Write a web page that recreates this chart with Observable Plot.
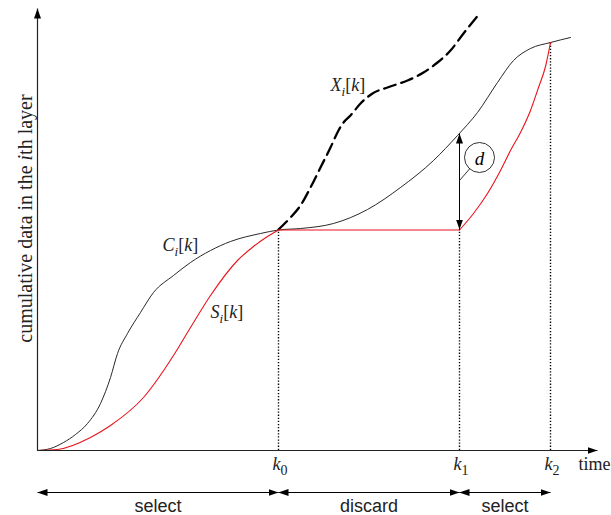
<!DOCTYPE html>
<html><head><meta charset="utf-8">
<script src="https://cdn.jsdelivr.net/npm/d3@7"></script>
<script src="https://cdn.jsdelivr.net/npm/@observablehq/plot@0.6"></script>
<style>body{margin:0;background:#fff} #chart{width:611px;height:515px}</style>
</head><body><div id="chart"></div>
<script>
// ---- data (time units / data units) ----
const xDomain = [0, 560];
const yDomain = [0, 442];

const cTime = [0, 13, 26, 38, 50, 63, 73, 80, 90, 103, 116, 136, 153, 173, 193, 223, 241, 263, 296, 330, 363, 396, 420, 440, 460, 476, 493, 513, 533];
const cData = [0, 2, 8, 16, 27, 47, 73, 97, 117, 138, 158, 175, 188, 200, 209, 217, 220.5, 222, 227, 241, 263, 290, 315, 338, 368, 390, 402, 408, 413];

const s1Time = [0, 20, 53, 73, 106, 136, 153, 173, 200, 216, 230, 241];
const s1Data = [0, 1, 13, 25, 53, 95, 123, 155, 190, 204, 214, 220.5];
const s2Time = [241, 422];
const s2Data = [220.5, 220.5];
const s3Time = [422, 436, 450, 463, 473, 483, 493, 501, 508, 513];
const s3Data = [220.5, 237, 257, 280, 300, 318, 340, 363, 384, 408];

const xTime = [241, 253, 263, 273, 283, 293, 301, 306, 313, 323, 335, 350, 370, 386, 400, 413, 426, 443];
const xData = [221, 233, 245, 263, 283, 303, 320, 328, 335, 347, 357, 363, 370, 378, 388, 400, 417, 438];

const eventNames = ["k_0", "k_1", "k_2"];
const eventTimes = [241, 422, 513];
const eventLevels = [221, 221, 408];

const phaseNames = ["select", "discard", "select"];
const phaseStart = [0, 241, 422];
const phaseEnd = [241, 422, 513];

const curveNames = ["C_i[k]", "S_i[k]", "X_i[k]"];
const curveLabelTime = [125, 173, 293];
const curveLabelData = [200, 133, 360];

const dName = "d";
const dTime = 422, dLow = 221, dHigh = 317;
const dBubbleTime = 442, dBubbleData = 293, dLeaderTime = 422, dLeaderData = 270;

const xTitle = "time";
const yTitle = "cumulative data in the ith layer";

// ---- tables ----
const zip = (t, v, extra = {}) => t.map((d, i) => ({t: d, v: v[i], ...extra}));
const cTable = zip(cTime, cData);
const s1Table = zip(s1Time, s1Data);
const s2Table = zip(s2Time, s2Data);
const s3Table = zip(s3Time, s3Data);
const xTable = zip(xTime, xData);
const events = eventNames.map((n, i) => ({name: n, t: eventTimes[i], level: eventLevels[i]}));
const phases = phaseNames.map((n, i) => ({name: n, start: phaseStart[i], end: phaseEnd[i], mid: (phaseStart[i] + phaseEnd[i]) / 2}));
const curveLabels = curveNames.map((n, i) => ({name: n, t: curveLabelTime[i], v: curveLabelData[i]}));

// filled arrow head marker
function head(color) {
  const m = document.createElementNS("http://www.w3.org/2000/svg", "marker");
  m.setAttribute("viewBox", "-10 -4 10 8");
  m.setAttribute("markerWidth", 10);
  m.setAttribute("markerHeight", 8);
  m.setAttribute("markerUnits", "userSpaceOnUse");
  m.setAttribute("orient", "auto-start-reverse");
  m.setAttribute("refX", 0);
  m.setAttribute("refY", 0);
  const p = document.createElementNS("http://www.w3.org/2000/svg", "path");
  p.setAttribute("d", "M-10,-3.5L0,0L-10,3.5Z");
  p.setAttribute("fill", "black");
  p.setAttribute("stroke", "none");
  m.appendChild(p);
  return m;
}

const serif = "'Liberation Serif', 'Times New Roman', serif";
const sans = "'Liberation Sans', Arial, Helvetica, sans-serif";
const red = "#e8141c";

const plot = Plot.plot({
  width: 611, height: 515,
  marginLeft: 37, marginRight: 14, marginTop: 8, marginBottom: 65,
  x: {domain: xDomain, axis: null},
  y: {domain: yDomain, axis: null},
  style: {background: "white", overflow: "visible"},
  marks: [
    Plot.ruleX(events, {x: "t", y1: 0, y2: "level", stroke: "black", strokeWidth: 1.4, strokeDasharray: "1.3,1.8"}),
    Plot.line(cTable, {x: "t", y: "v", curve: "monotone-x", stroke: "#111", strokeWidth: 0.9}),
    Plot.line(xTable, {x: "t", y: "v", curve: "monotone-x", stroke: "#000", strokeWidth: 2.3, strokeDasharray: "12,6"}),
    Plot.line(s1Table, {x: "t", y: "v", curve: "monotone-x", stroke: red, strokeWidth: 1.1}),
    Plot.line(s2Table, {x: "t", y: "v", stroke: red, strokeWidth: 1.2}),
    Plot.line(s3Table, {x: "t", y: "v", curve: "monotone-x", stroke: red, strokeWidth: 1.1}),
    // axes
    Plot.link([{}], {x1: xDomain[0], x2: xDomain[1], y1: yDomain[0], y2: yDomain[0], stroke: "#222", strokeWidth: 1.2, markerEnd: head}),
    Plot.link([{}], {x1: xDomain[0], x2: xDomain[0], y1: yDomain[0], y2: yDomain[1], stroke: "#222", strokeWidth: 1.2, markerEnd: head}),
    // d arrow
    Plot.link([{}], {x1: dTime, x2: dTime, y1: dLow, y2: dHigh, stroke: "#000", strokeWidth: 1, markerStart: head, markerEnd: head}),
    Plot.link([{}], {x1: dLeaderTime, y1: dLeaderData, x2: dBubbleTime, y2: dBubbleData, stroke: "#000", strokeWidth: 0.8}),
    Plot.dot([{}], {x: dBubbleTime, y: dBubbleData, r: 15, stroke: "#000", strokeWidth: 0.8, fill: "white"}),
    Plot.text([dName], {x: dBubbleTime, y: dBubbleData, text: d => d, fontFamily: serif, fontSize: 19, fontStyle: "italic", dy: 1}),
    // phases
    Plot.link(phases, {x1: "start", x2: "end", y1: -42, y2: -42, stroke: "#000", strokeWidth: 1, markerStart: head, markerEnd: head}),
    Plot.text(phases, {x: "mid", y: -61, text: "name", lineAnchor: "bottom", fontFamily: sans, fontSize: 18, fill: "#222"}),
    // labels
    Plot.text(events, {x: "t", y: -19, text: "name", textAnchor: "start", dx: -6, lineAnchor: "bottom", fontFamily: serif, fontSize: 18, fill: "#222"}),
    Plot.text([xTitle], {x: 541, y: -19, text: d => d, textAnchor: "start", lineAnchor: "bottom", fontFamily: serif, fontSize: 18, fill: "#222"}),
    Plot.text(curveLabels, {x: "t", y: "v", text: "name", textAnchor: "start", lineAnchor: "bottom", fontFamily: serif, fontSize: 18, fill: "#222"}),
    Plot.text([yTitle], {x: -6, y: 232, text: d => d, rotate: -90, lineAnchor: "bottom", fontFamily: serif, fontSize: 20, fill: "#222"})
  ]
});

// rich text (italics and subscripts) for math-like labels
function partsOf(s) {
  if (s === yTitle) return [{text: "cumulative data in the "}, {text: "i", italic: true}, {text: "th layer"}];
  const out = [];
  for (let i = 0; i < s.length; i++) {
    let ch = s[i], sub = false;
    if (ch === "_") { sub = true; ch = s[++i]; }
    out.push({text: ch, italic: /[A-Za-z]/.test(ch), sub});
  }
  return out;
}
const richSet = new Set([yTitle, dName, ...eventNames, ...curveNames]);
d3.select(plot).selectAll("text").each(function () {
  const s = this.textContent;
  if (!richSet.has(s)) return;
  while (this.firstChild) this.removeChild(this.firstChild);
  let shifted = false;
  for (const p of partsOf(s)) {
    const ts = document.createElementNS("http://www.w3.org/2000/svg", "tspan");
    ts.textContent = p.text;
    ts.setAttribute("font-style", p.italic ? "italic" : "normal");
    if (p.sub) {
      ts.setAttribute("font-size", /[0-9]/.test(p.text) ? 14 : 13);
      ts.setAttribute("dy", 5);
      shifted = true;
    } else if (shifted) {
      ts.setAttribute("dy", -5);
      shifted = false;
    }
    this.appendChild(ts);
  }
});

document.getElementById("chart").appendChild(plot);
</script>
</body></html>
